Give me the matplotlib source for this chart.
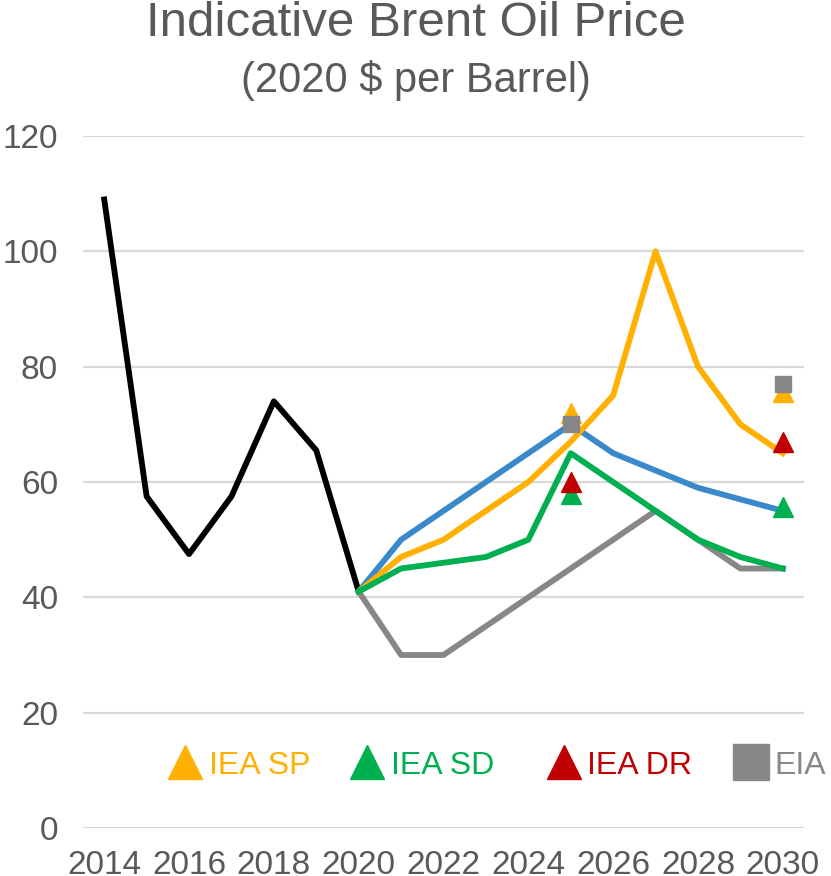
import matplotlib
matplotlib.use("Agg")
import matplotlib.pyplot as plt

plt.rcParams["font.family"] = ["Liberation Sans", "DejaVu Sans"]

# ---- colours ----
C_TEXT = "#595959"
C_GRID = "#D9D9D9"
C_BLACK = "#000000"
C_BLUE = "#3A89CB"
C_ORANGE = "#FFB000"
C_GREEN = "#00B050"
C_GREY = "#878787"
C_RED = "#C00000"

# ---- data ----
hist_years = [2014, 2015, 2016, 2017, 2018, 2019, 2020]
hist_price = [109, 57.5, 47.5, 57.5, 74, 65.5, 41]

proj_years = [2020, 2021, 2022, 2023, 2024, 2025, 2026, 2027, 2028, 2029, 2030]
blue_price = [41, 50, 55, 60, 65, 70, 65, 62, 59, 57, 55]
orange_price = [41, 47, 50, 55, 60, 67, 75, 100, 80, 70, 65]
green_price = [41, 45, 46, 47, 50, 65, 60, 55, 50, 47, 45]
grey_price = [41, 30, 30, 35, 40, 45, 50, 55, 50, 45, 45]

point_years = [2025, 2030]
iea_sp = [72, 75.6]
iea_sd = [58, 55.7]
iea_dr = [60, 67]
eia = [70, 77]

x_ticks = list(range(2014, 2031, 2))
y_ticks = [0, 20, 40, 60, 80, 100, 120]

fig = plt.figure(figsize=(8.31, 8.76), dpi=100)
ax = fig.add_axes([0.0999, 0.0548, 0.8676, 0.7899])

lw = 4.2
ax.plot(hist_years, hist_price, color=C_BLACK, lw=lw, zorder=3)
ax.plot(proj_years, grey_price, color=C_GREY, lw=lw, zorder=3)
ax.plot(proj_years, blue_price, color=C_BLUE, lw=lw, zorder=3)
ax.plot(proj_years, orange_price, color=C_ORANGE, lw=lw, zorder=3)
ax.plot(proj_years, green_price, color=C_GREEN, lw=lw, zorder=3)

h_sp, = ax.plot(point_years, iea_sp, ls="none", marker="^", ms=14,
                color=C_ORANGE, label="IEA SP", zorder=4)
h_sd, = ax.plot(point_years, iea_sd, ls="none", marker="^", ms=14,
                color=C_GREEN, label="IEA SD", zorder=4)
h_dr, = ax.plot(point_years, iea_dr, ls="none", marker="^", ms=14,
                color=C_RED, label="IEA DR", zorder=4)
h_eia, = ax.plot(point_years, eia, ls="none", marker="s", ms=11,
                 color=C_GREY, label="EIA", zorder=5)

ax.set_xlim(2013.5, 2030.5)
ax.set_ylim(0, 120)
ax.set_xticks(x_ticks)
ax.set_yticks(y_ticks)
ax.tick_params(axis="both", length=0, labelsize=24, colors=C_TEXT)
ax.tick_params(axis="y", pad=18)
ax.tick_params(axis="x", pad=16)
ax.grid(axis="y", color=C_GRID, lw=1.6)
ax.set_axisbelow(True)
for s in ax.spines.values():
    s.set_visible(False)

# legend entries placed one by one, like the spreadsheet legend
leg_x = [0.202, 0.421, 0.657, 0.882]
leg_cols = [C_ORANGE, C_GREEN, C_RED, C_GREY]
leg_scale = [1.75, 1.75, 1.75, 2.4]
for h, x0, col, sc in zip([h_sp, h_sd, h_dr, h_eia], leg_x, leg_cols, leg_scale):
    leg = fig.legend(handles=[h], loc="center left", bbox_to_anchor=(x0, 0.126),
                     frameon=False, fontsize=23, markerscale=sc,
                     handlelength=1.1, handletextpad=0.2, borderpad=0,
                     borderaxespad=0)
    leg.get_texts()[0].set_color(col)

fig.text(0.5, 0.973, "Indicative Brent Oil Price", ha="center", va="center",
         fontsize=35.5, color=C_TEXT)
fig.text(0.5, 0.908, "(2020 $ per Barrel)", ha="center", va="center",
         fontsize=30, color=C_TEXT)

fig.savefig("out.png", dpi=100)
